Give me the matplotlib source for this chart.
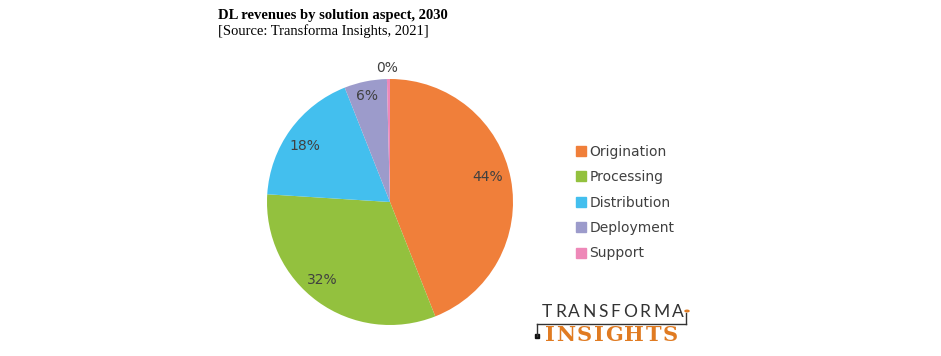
import matplotlib
matplotlib.use("Agg")
import matplotlib.pyplot as plt
import numpy as np
from matplotlib.lines import Line2D
from matplotlib.patches import Rectangle, Circle

categories = ["Origination", "Processing", "Distribution", "Deployment", "Support"]
values = [44.0, 32.0, 18.0, 5.6, 0.4]
labels_txt = ["44%", "32%", "18%", "6%", "0%"]
colors = ["#F07F3A", "#93C13E", "#43BFEE", "#9C9BCB", "#EE88B8"]

W, H = 941, 356
fig = plt.figure(figsize=(W / 100, H / 100), dpi=100)

# pie axes: center (390,202) px, radius 123 px, limits +-1.25
R = 123
cx, cy = 390, 202
half = 1.25 * R
ax = fig.add_axes([(cx - half) / W, (H - cy - half) / H, 2 * half / W, 2 * half / H])
wedges, _ = ax.pie(values, colors=colors, startangle=90, counterclock=False,
                   radius=1.0, wedgeprops=dict(linewidth=0))
ax.set_xlim(-1.25, 1.25)
ax.set_ylim(-1.25, 1.25)
ax.set_aspect("auto")
ax.axis("off")

# percentage labels (distance, angular offset in degrees)
placement = [(0.82, 3.5), (0.84, -4.7), (0.83, 2.9), (0.88, 0.7), (1.09, 0.6)]
for w, lab, (d, off) in zip(wedges, labels_txt, placement):
    ang = np.deg2rad((w.theta1 + w.theta2) / 2 + off)
    ax.text(d * np.cos(ang), d * np.sin(ang), lab, ha="center", va="center",
            fontsize=10, color="#404040", family="DejaVu Sans")

# title
fig.text(218 / W, 1 - 15 / H, "DL revenues by solution aspect, 2030", ha="left", va="center",
         fontsize=10.5, fontweight="bold", family="Liberation Serif", color="#000000")
fig.text(218 / W, 1 - 31 / H, "[Source: Transforma Insights, 2021]", ha="left", va="center",
         fontsize=10.5, family="Liberation Serif", color="#000000")

# legend
handles = [Line2D([0], [0], marker="s", linestyle="none", markersize=7,
                  markerfacecolor=c, markeredgecolor=c) for c in colors]
leg = fig.legend(handles, categories, loc="upper left",
                 bbox_to_anchor=(569 / W, 1 - 138 / H), frameon=False,
                 prop=dict(family="DejaVu Sans", size=10), labelcolor="#404040",
                 handlelength=0.7, handletextpad=0.25, labelspacing=0.82, borderpad=0)

# logo with letter tracking
renderer = fig.canvas.get_renderer()


def tracked(word, x0, x1, y, **kw):
    objs = [fig.text(0, 1 - y / H, ch, ha="left", va="center", **kw) for ch in word]
    widths = [o.get_window_extent(renderer).width for o in objs]
    gap = ((x1 - x0) - sum(widths)) / (len(word) - 1)
    x = x0
    for o, wdt in zip(objs, widths):
        o.set_x(x / W)
        x += wdt + gap


tracked("TRANSFORMA", 542, 684, 312, fontsize=12.5, family="Lato",
        fontweight="normal", color="#333333")
tracked("INSIGHTS", 545, 678, 335, fontsize=15, family="DejaVu Serif",
        fontweight="bold", color="#E07B22")

fig.add_artist(Line2D([537 / W, 686 / W], [1 - 324 / H, 1 - 324 / H], color="#333333", lw=1))
fig.add_artist(Line2D([537 / W, 537 / W], [1 - 324 / H, 1 - 336 / H], color="#333333", lw=1))
fig.add_artist(Line2D([686 / W, 686 / W], [1 - 324 / H, 1 - 313 / H], color="#333333", lw=1))
fig.add_artist(Rectangle((535 / W, 1 - 338 / H), 4 / W, 4 / H, color="#111111"))
fig.add_artist(Circle((687 / W, 1 - 311 / H), 2 / W, transform=fig.transFigure,
                      facecolor="white", edgecolor="#E07B22", lw=1))

fig.savefig("out.png", dpi=100, facecolor="white")
